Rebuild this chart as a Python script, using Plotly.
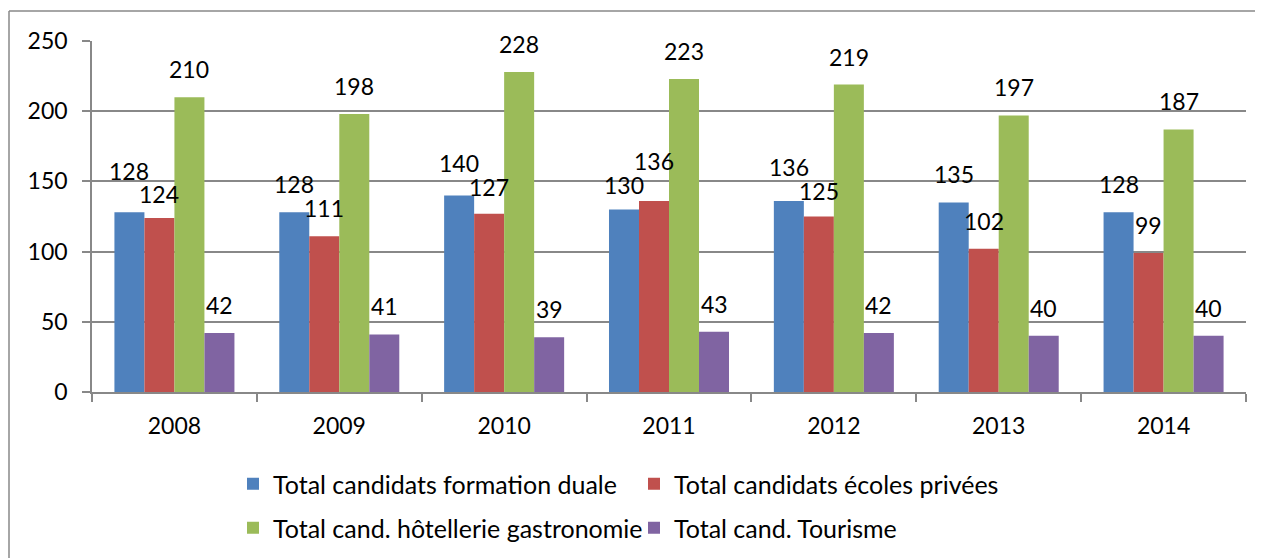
import plotly.graph_objects as go

years = ["2008", "2009", "2010", "2011", "2012", "2013", "2014"]
series_names = [
    "Total candidats formation duale",
    "Total candidats écoles privées",
    "Total cand. hôtellerie gastronomie",
    "Total cand. Tourisme",
]
duale = [128, 128, 140, 130, 136, 135, 128]
privees = [124, 111, 127, 136, 125, 102, 99]
hotellerie = [210, 198, 228, 223, 219, 197, 187]
tourisme = [42, 41, 39, 43, 42, 40, 40]
all_values = [duale, privees, hotellerie, tourisme]
colors = ["#4F81BD", "#C0504D", "#9BBB59", "#8064A2"]
legend_ids = ["legend", "legend", "legend2", "legend2"]

FONT = "Lato, 'Open Sans', sans-serif"
Y_MAX = 250

# page has an 8px body margin: the figure is sized so that it ends at the window edge
OFF = 8
W, H = 1263 - OFF, 558 - OFF
L, R, T, B = 84, 17, 33, 166
pw, ph = W - L - R, H - T - B


def px_x(p):  # p: horizontal pixel in the window
    return (p - OFF - L) / pw


def px_y(p):  # p: vertical pixel in the window
    return (H - B - (p - OFF)) / ph


fig = go.Figure()
for name, vals, col, lg in zip(series_names, all_values, colors, legend_ids):
    fig.add_trace(go.Bar(x=years, y=vals, name=name, marker=dict(color=col, line=dict(width=0)),
                         legend=lg, hoverinfo="x+y+name"))

# data labels (x given as category index); blue/red labels that collide are pulled apart
bar_px = 30
base_shift = 12
min_sep = 24
unit_px = ph / Y_MAX
annotations = []
for j in range(len(years)):
    shifts = [base_shift] * 4
    b, r = duale[j], privees[j]
    diff = abs(b - r) * unit_px
    if diff < min_sep:
        need = min_sep - diff
        hi, lo = (0, 1) if b >= r else (1, 0)
        shifts[hi] += need * 0.75
        shifts[lo] -= need * 0.25
    for i, vals in enumerate(all_values):
        annotations.append(dict(x=j, y=vals[j], xref="x", yref="y", text=str(vals[j]), showarrow=False,
                                xshift=(i - 1.5) * bar_px, yshift=shifts[i], yanchor="bottom",
                                font=dict(family=FONT, size=23, color="black")))

fig.update_layout(
    width=W, height=H,
    margin=dict(l=L, r=R, t=T, b=B, autoexpand=False),
    paper_bgcolor="white", plot_bgcolor="white",
    barmode="group", bargap=0.272, bargroupgap=0,
    font=dict(family=FONT, size=22, color="black"),
    annotations=annotations,
    shapes=[
        dict(type="line", xref="paper", yref="paper", x0=px_x(9), x1=px_x(1270), y0=px_y(11), y1=px_y(11),
             line=dict(color="#888888", width=1.5), layer="below"),
        dict(type="line", xref="paper", yref="paper", x0=px_x(9), x1=px_x(9), y0=px_y(11), y1=px_y(565),
             line=dict(color="#888888", width=1.5), layer="below"),
    ],
    legend=dict(orientation="h", x=px_x(233), xanchor="left", y=px_y(484), yanchor="middle",
                entrywidth=356, entrywidthmode="pixels", font=dict(family=FONT, size=25, color="black"),
                bgcolor="rgba(0,0,0,0)", itemclick=False),
    legend2=dict(orientation="h", x=px_x(233), xanchor="left", y=px_y(528), yanchor="middle",
                 entrywidth=356, entrywidthmode="pixels", font=dict(family=FONT, size=25, color="black"),
                 bgcolor="rgba(0,0,0,0)", itemclick=False),
)
fig.update_xaxes(type="category", showgrid=False, showline=True, linecolor="#888888", linewidth=1.5,
                 ticks="outside", tickson="boundaries", ticklen=8, tickcolor="#888888", tickwidth=1.5,
                 tickfont=dict(family=FONT, size=23, color="black"), ticklabelstandoff=13,
                 tickangle=0, automargin=False)
fig.update_yaxes(range=[0, Y_MAX], dtick=50, showgrid=True, gridcolor="#888888", gridwidth=1.5,
                 showline=True, linecolor="#888888", linewidth=1.5, ticks="outside", ticklen=8,
                 tickcolor="#888888", tickwidth=1.5, zeroline=False, automargin=False,
                 tickfont=dict(family=FONT, size=23, color="black"), ticklabelstandoff=10)

fig.write_html("out.html")
